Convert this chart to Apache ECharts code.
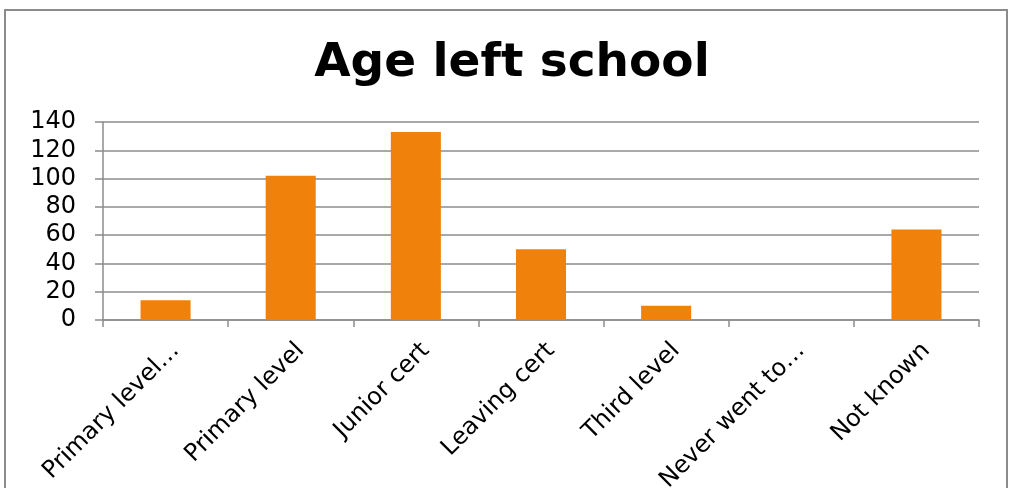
<!DOCTYPE html>
<html>
<head>
<meta charset="utf-8">
<title>Age left school</title>
<script src="https://cdn.jsdelivr.net/npm/echarts@6/dist/echarts.min.js"></script>
<style>
  html, body { margin: 0; padding: 0; background: #fff; }
  #chart { width: 1013px; height: 488px; }
</style>
</head>
<body>
<div id="chart"></div>
<script>
// Education level at which respondents left school
const categories = ['Primary level…', 'Primary level', 'Junior cert', 'Leaving cert', 'Third level', 'Never went to…', 'Not known'];
const counts = [14, 102, 133, 50, 10, 0, 64];
const yTicks = [0, 20, 40, 60, 80, 100, 120, 140];

const GRAY = '#8c8c8c';
const FONT = 'DejaVu Sans, Verdana, sans-serif';

const chart = echarts.init(document.getElementById('chart'), null, { renderer: 'canvas' });

chart.setOption({
  animation: false,
  backgroundColor: '#fff',
  title: {
    text: 'Age left school',
    left: 507,
    textAlign: 'center',
    top: 35,
    textStyle: { fontFamily: FONT, fontSize: 47, fontWeight: 'bold', color: '#000' }
  },
  graphic: [{
    type: 'rect',
    shape: { x: 5, y: 10, width: 1002, height: 500 },
    style: { fill: 'none', stroke: GRAY, lineWidth: 2 },
    silent: true
  }],
  grid: { left: 103, right: 34, top: 122, bottom: 168, containLabel: false, outerBoundsMode: 'none' },
  xAxis: {
    type: 'category',
    data: categories,
    boundaryGap: true,
    axisLine: { lineStyle: { color: GRAY, width: 1.5 } },
    axisTick: { show: true, length: 7, lineStyle: { color: GRAY, width: 1.5 } },
    axisLabel: {
      rotate: 45,
      interval: 0,
      margin: 17,
      verticalAlign: 'top',
      padding: [2, 0, 0, 0],
      fontFamily: FONT,
      fontSize: 24,
      color: '#000'
    }
  },
  yAxis: {
    type: 'value',
    min: yTicks[0],
    max: yTicks[yTicks.length - 1],
    interval: yTicks[1] - yTicks[0],
    axisLine: { show: true, lineStyle: { color: GRAY, width: 1.5 } },
    axisTick: { show: true, length: 8, lineStyle: { color: GRAY, width: 1.5 } },
    splitLine: { show: true, lineStyle: { color: GRAY, width: 1.5 } },
    axisLabel: { margin: 27, fontFamily: FONT, fontSize: 24, color: '#000' }
  },
  series: [{
    type: 'bar',
    data: counts,
    barWidth: '40%',
    itemStyle: { color: '#F0820C' }
  }]
});
</script>
</body>
</html>
